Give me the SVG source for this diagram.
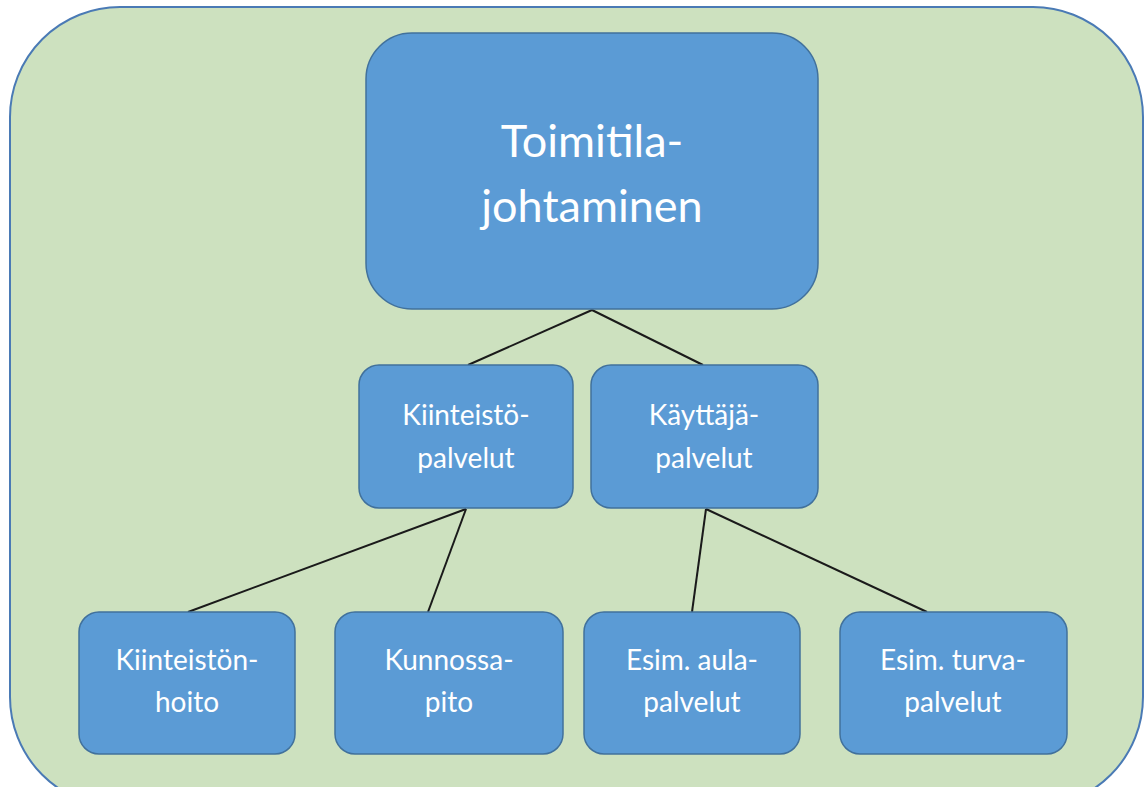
<svg xmlns="http://www.w3.org/2000/svg" width="1145" height="787" viewBox="0 0 1145 787">
  <style>
    .frame { fill: #cde1bf; stroke: #4a7ab5; stroke-width: 2; }
    .box { fill: #5b9bd5; stroke: #41719c; stroke-width: 1.5; }
    .lbl { fill: #ffffff; font-family: Lato, "Open Sans", "Liberation Sans", sans-serif; text-anchor: middle; }
    .big { font-size: 45px; }
    .mid { font-size: 28px; }
    .links line { stroke: #1a1a1a; stroke-width: 2; }
  </style>
  <rect width="1145" height="787" fill="#ffffff"/>
  <rect class="frame" x="10" y="7" width="1133" height="800" rx="110" ry="110"/>

  <g class="links" id="connectors">
    <line x1="592" y1="310" x2="468" y2="365"/>
    <line x1="592" y1="310" x2="703" y2="365"/>
    <line x1="466" y1="509" x2="188" y2="612"/>
    <line x1="466" y1="509" x2="428" y2="612"/>
    <line x1="706" y1="509" x2="692" y2="612"/>
    <line x1="706" y1="509" x2="927" y2="612"/>
  </g>

  <g id="toimitilajohtaminen">
    <rect class="box" x="366" y="33" width="452" height="276" rx="46"/>
    <text class="lbl big" x="592" y="157">Toimitila-</text>
    <text class="lbl big" x="592" y="222">johtaminen</text>
  </g>

  <g id="kiinteistopalvelut">
    <rect class="box" x="359" y="365" width="214" height="143" rx="20"/>
    <text class="lbl mid" x="466" y="425">Kiinteistö-</text>
    <text class="lbl mid" x="466" y="468">palvelut</text>
  </g>

  <g id="kayttajapalvelut">
    <rect class="box" x="591" y="365" width="227" height="143" rx="20"/>
    <text class="lbl mid" x="704" y="425">Käyttäjä-</text>
    <text class="lbl mid" x="704" y="468">palvelut</text>
  </g>

  <g id="kiinteistonhoito">
    <rect class="box" x="79" y="612" width="216" height="142" rx="20"/>
    <text class="lbl mid" x="187" y="670">Kiinteistön-</text>
    <text class="lbl mid" x="187" y="712">hoito</text>
  </g>

  <g id="kunnossapito">
    <rect class="box" x="335" y="612" width="228" height="142" rx="20"/>
    <text class="lbl mid" x="449" y="670">Kunnossa-</text>
    <text class="lbl mid" x="449" y="712">pito</text>
  </g>

  <g id="aulapalvelut">
    <rect class="box" x="584" y="612" width="216" height="142" rx="20"/>
    <text class="lbl mid" x="692" y="670">Esim. aula-</text>
    <text class="lbl mid" x="692" y="712">palvelut</text>
  </g>

  <g id="turvapalvelut">
    <rect class="box" x="840" y="612" width="227" height="142" rx="20"/>
    <text class="lbl mid" x="953" y="670">Esim. turva-</text>
    <text class="lbl mid" x="953" y="712">palvelut</text>
  </g>
</svg>
